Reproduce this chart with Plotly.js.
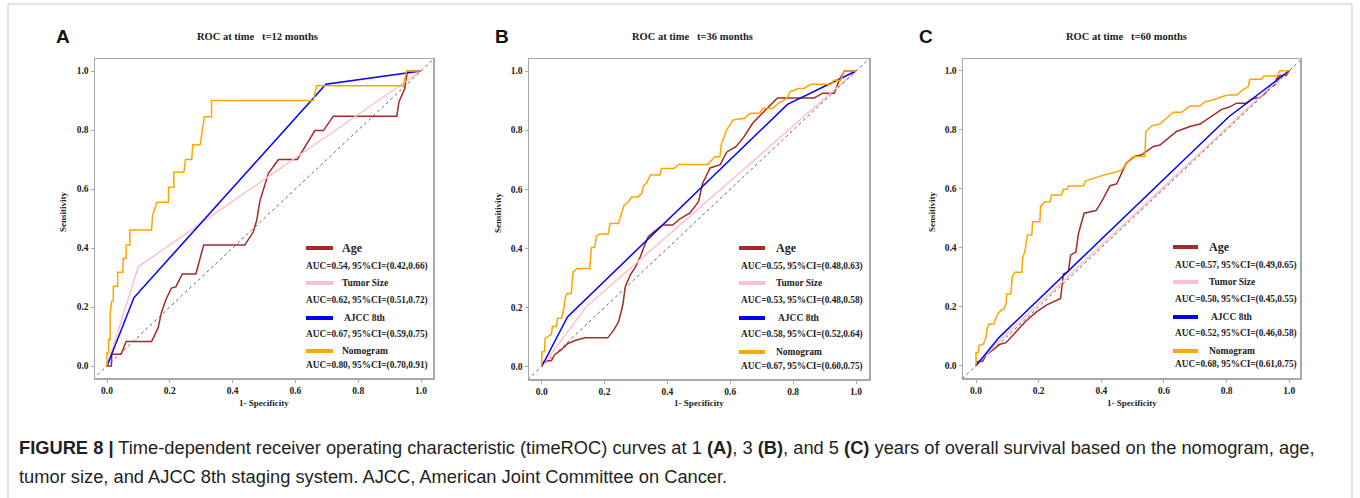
<!DOCTYPE html>
<html>
<head>
<meta charset="utf-8">
<script src="https://cdn.plot.ly/plotly-3.0.1.min.js"></script>
<style>html,body{margin:0;padding:0;background:#fff;}#chart{width:1360px;height:498px;}</style>
</head>
<body>
<div id="chart"></div>
<script>
// ---------- DATA ----------
const seriesNames = ["Age", "Tumor Size", "AJCC 8th", "Nomogram"];
const panelTitles = ["ROC at time\u00a0\u00a0\u00a0t=12 months", "ROC at time\u00a0\u00a0\u00a0t=36 months", "ROC at time\u00a0\u00a0\u00a0t=60 months"];
const panelLetters = ["A", "B", "C"];
const tickValues = [0, 0.2, 0.4, 0.6, 0.8, 1.0];
const diagonal = [-0.1, 1.1];

// Panel A (12 months)
const ageA_x = [0,0.014,0.015,0.045,0.061,0.142,0.163,0.173,0.187,0.205,0.219,0.24,0.283,0.308,0.439,0.466,0.477,0.487,0.514,0.546,0.606,0.662,0.689,0.721,0.923,0.93,0.948,0.957,1];
const ageA_y = [0,0,0.04,0.04,0.083,0.083,0.13,0.18,0.224,0.264,0.268,0.312,0.312,0.41,0.41,0.455,0.495,0.56,0.653,0.70,0.70,0.798,0.798,0.847,0.847,0.896,0.94,1.0,1.0];
const tumorA_x = [0,0.1,1];
const tumorA_y = [0,0.337,1];
const ajccA_x = [0,0.086,0.697,1];
const ajccA_y = [0,0.232,0.955,1];
const nomoA_x = [0,0,0.005,0.005,0.01,0.01,0.015,0.02,0.02,0.034,0.034,0.05,0.052,0.061,0.061,0.073,0.073,0.142,0.145,0.159,0.196,0.196,0.213,0.213,0.245,0.25,0.27,0.273,0.297,0.31,0.333,0.333,0.657,0.668,0.944,0.954,1];
const nomoA_y = [0,0.045,0.045,0.09,0.09,0.175,0.22,0.22,0.27,0.27,0.318,0.318,0.365,0.365,0.41,0.41,0.461,0.461,0.51,0.555,0.555,0.606,0.606,0.657,0.657,0.70,0.70,0.75,0.75,0.845,0.845,0.90,0.90,0.95,0.95,1.0,1.0];
const aucA = ["AUC=0.54, 95%CI=(0.42,0.66)", "AUC=0.62, 95%CI=(0.51,0.72)", "AUC=0.67, 95%CI=(0.59,0.75)", "AUC=0.80, 95%CI=(0.70,0.91)"];

// Panel B (36 months)
const ageB_x = [0,0.007,0.031,0.041,0.063,0.082,0.106,0.138,0.21,0.229,0.245,0.258,0.266,0.282,0.298,0.314,0.328,0.339,0.354,0.385,0.417,0.44,0.472,0.499,0.512,0.536,0.568,0.589,0.618,0.644,0.671,0.697,0.724,0.75,0.867,0.894,0.931,0.947,0.963,1];
const ageB_y = [0,0.017,0.02,0.04,0.057,0.077,0.088,0.097,0.097,0.123,0.152,0.208,0.27,0.31,0.336,0.372,0.411,0.439,0.453,0.479,0.479,0.5,0.52,0.558,0.62,0.672,0.683,0.726,0.744,0.778,0.823,0.851,0.879,0.909,0.909,0.925,0.925,0.97,1.0,1.0];
const tumorB_x = [0,0.142,1];
const tumorB_y = [0,0.202,1];
const ajccB_x = [0,0.082,0.782,1];
const ajccB_y = [0,0.168,0.887,1];
const nomoB_x = [0,0.001,0.009,0.011,0.031,0.034,0.047,0.05,0.063,0.071,0.075,0.081,0.094,0.1,0.113,0.153,0.158,0.169,0.174,0.185,0.212,0.217,0.244,0.252,0.262,0.276,0.286,0.307,0.318,0.325,0.333,0.346,0.376,0.381,0.42,0.437,0.529,0.55,0.567,0.572,0.588,0.609,0.646,0.662,0.694,0.704,0.736,0.752,0.78,0.79,0.816,0.835,0.856,0.92,0.93,0.951,0.962,1];
const nomoB_y = [0,0.05,0.05,0.096,0.109,0.135,0.135,0.163,0.163,0.2,0.234,0.247,0.247,0.32,0.332,0.332,0.403,0.403,0.441,0.448,0.448,0.484,0.484,0.513,0.546,0.557,0.574,0.574,0.586,0.614,0.62,0.648,0.648,0.670,0.670,0.684,0.684,0.71,0.71,0.755,0.80,0.834,0.84,0.856,0.858,0.874,0.874,0.89,0.907,0.93,0.941,0.941,0.955,0.955,0.969,0.969,1.0,1.0];
const aucB = ["AUC=0.55, 95%CI=(0.48,0.63)", "AUC=0.53, 95%CI=(0.48,0.58)", "AUC=0.58, 95%CI=(0.52,0.64)", "AUC=0.67, 95%CI=(0.60,0.75)"];

// Panel C (60 months)
const ageC_x = [0,0.004,0.021,0.034,0.05,0.077,0.096,0.109,0.13,0.157,0.194,0.226,0.27,0.279,0.295,0.302,0.319,0.327,0.345,0.383,0.401,0.428,0.449,0.468,0.479,0.506,0.529,0.566,0.587,0.64,0.683,0.715,0.752,0.784,0.805,0.832,0.864,0.88,0.906,0.922,0.938,0.954,0.96,0.97,0.99,1];
const ageC_y = [0,0.014,0.014,0.04,0.05,0.073,0.078,0.093,0.118,0.149,0.183,0.206,0.228,0.311,0.319,0.375,0.386,0.448,0.517,0.526,0.556,0.61,0.616,0.663,0.686,0.709,0.715,0.743,0.748,0.794,0.811,0.819,0.846,0.869,0.875,0.89,0.89,0.904,0.91,0.922,0.944,0.952,0.974,0.984,0.984,1.0];
const tumorC_x = [0,0.08,0.93,1];
const tumorC_y = [0,0.09,0.935,1];
const ajccC_x = [0,0.074,0.807,1];
const ajccC_y = [0,0.096,0.844,1];
const nomoC_x = [0,0,0.007,0.01,0.023,0.031,0.036,0.042,0.057,0.063,0.071,0.081,0.089,0.096,0.098,0.111,0.116,0.125,0.146,0.149,0.156,0.164,0.178,0.181,0.204,0.206,0.22,0.236,0.241,0.273,0.279,0.291,0.295,0.343,0.349,0.375,0.407,0.439,0.465,0.481,0.502,0.539,0.542,0.561,0.587,0.608,0.63,0.656,0.683,0.715,0.731,0.758,0.779,0.805,0.832,0.854,0.869,0.874,0.912,0.919,0.96,0.97,1];
const nomoC_y = [0,0.044,0.044,0.068,0.073,0.092,0.127,0.141,0.141,0.161,0.178,0.189,0.192,0.211,0.243,0.243,0.302,0.317,0.317,0.367,0.386,0.443,0.443,0.488,0.488,0.541,0.556,0.556,0.579,0.579,0.598,0.598,0.609,0.609,0.626,0.635,0.646,0.654,0.663,0.686,0.709,0.709,0.794,0.813,0.819,0.839,0.859,0.859,0.88,0.88,0.895,0.901,0.91,0.918,0.918,0.937,0.946,0.971,0.971,0.982,0.982,1.0,1.0];
const aucC = ["AUC=0.57, 95%CI=(0.49,0.65)", "AUC=0.50, 95%CI=(0.45,0.55)", "AUC=0.52, 95%CI=(0.46,0.58)", "AUC=0.68, 95%CI=(0.61,0.75)"];

const captionLine1 = "<b>FIGURE 8 |</b> Time-dependent receiver operating characteristic (timeROC) curves at 1 <b>(A)</b>, 3 <b>(B)</b>, and 5 <b>(C)</b> years of overall survival based on the nomogram, age,";
const captionLine2 = "tumor size, and AJCC 8th staging system. AJCC, American Joint Committee on Cancer.";

// ---------- STYLE / LAYOUT ----------
const W = 1360, H = 498;
const fx = p => p / W;
const fy = p => 1 - p / H;
const colors = ["#A52A2A", "#FFC0CB", "#0000FF", "#FFA500"];
const serif = "Liberation Serif, Times New Roman, serif";

const panels = [
  {data: [[ageA_x, ageA_y], [tumorA_x, tumorA_y], [ajccA_x, ajccA_y], [nomoA_x, nomoA_y]], auc: aucA,
   frame: [95, 433, 59, 378], x0: 107, x1: 421, y0: 366, y1: 71,
   titleX: 257, letterX: 63, sensX: 63, specX: 264,
   legLine: [306, 333], legName: 340, aucX: 304, rows: [248, 266, 283, 300, 318, 334, 351, 365]},
  {data: [[ageB_x, ageB_y], [tumorB_x, tumorB_y], [ajccB_x, ajccB_y], [nomoB_x, nomoB_y]], auc: aucB,
   frame: [529, 869, 59, 379], x0: 541.7, x1: 856, y0: 366.5, y1: 71,
   titleX: 692, letterX: 502, sensX: 498, specX: 699,
   legLine: [739, 765], legName: 774, aucX: 739, rows: [248, 266, 283, 300, 318, 334, 352, 366]},
  {data: [[ageC_x, ageC_y], [tumorC_x, tumorC_y], [ajccC_x, ajccC_y], [nomoC_x, nomoC_y]], auc: aucC,
   frame: [963, 1300, 59, 378], x0: 976, x1: 1289.3, y0: 365.7, y1: 70.7,
   titleX: 1126, letterX: 926, sensX: 932, specX: 1132,
   legLine: [1173, 1198], legName: 1207, aucX: 1173, rows: [247, 265, 282, 299, 317, 333, 351, 364]}
];

const traces = [];
const shapes = [];
const annotations = [];
const layout = {
  width: W, height: H, margin: {l: 0, r: 0, t: 0, b: 0},
  paper_bgcolor: "#fff", plot_bgcolor: "#fff", showlegend: false,
  font: {family: serif, color: "#222"}
};

panels.forEach((p, i) => {
  const n = i === 0 ? "" : String(i + 1);
  const xa = "x" + n, ya = "y" + n;
  const [L, R, T, B] = p.frame;
  const axisCommon = {
    showline: true, mirror: true, linecolor: "#a8a8a8", linewidth: 1.5,
    ticks: "outside", ticklen: 3, tickcolor: "#a8a8a8", tickwidth: 1,
    showgrid: false, zeroline: false, tickvals: tickValues, tickformat: ".1f",
    tickfont: {family: serif, size: 9.5, color: "#222", weight: "bold"}, fixedrange: true
  };
  layout["xaxis" + n] = Object.assign({}, axisCommon, {
    anchor: ya, domain: [fx(L), fx(R)],
    range: [(L - p.x0) / (p.x1 - p.x0), (R - p.x0) / (p.x1 - p.x0)]
  });
  layout["yaxis" + n] = Object.assign({}, axisCommon, {
    anchor: xa, domain: [fy(B), fy(T)],
    range: [(p.y0 - B) / (p.y0 - p.y1), (p.y0 - T) / (p.y0 - p.y1)]
  });

  p.data.forEach((d, k) => {
    traces.push({type: "scatter", mode: "lines", x: d[0], y: d[1], xaxis: xa, yaxis: ya,
      line: {color: colors[k], width: 1.5}, hoverinfo: "skip"});
  });
  traces.push({type: "scatter", mode: "lines", x: diagonal, y: diagonal, xaxis: xa, yaxis: ya,
    line: {color: "#666", width: 1, dash: "dot"}, hoverinfo: "skip"});

  // titles and labels
  annotations.push({xref: "paper", yref: "paper", x: fx(p.titleX), y: fy(36), text: "<b>" + panelTitles[i] + "</b>",
    showarrow: false, xanchor: "center", yanchor: "middle", font: {family: serif, size: 10.5, color: "#222"}});
  annotations.push({xref: "paper", yref: "paper", x: fx(p.letterX), y: fy(36), text: "<b>" + panelLetters[i] + "</b>",
    showarrow: false, xanchor: "center", yanchor: "middle", font: {family: "Liberation Sans, Arial, sans-serif", size: 19, color: "#111"}});
  annotations.push({xref: "paper", yref: "paper", x: fx(p.sensX), y: fy(212), text: "<b>Sensitivity</b>", textangle: -90,
    showarrow: false, xanchor: "center", yanchor: "middle", font: {family: serif, size: 9, color: "#222"}});
  annotations.push({xref: "paper", yref: "paper", x: fx(p.specX), y: fy(403), text: "<b>1- Specificity</b>",
    showarrow: false, xanchor: "center", yanchor: "middle", font: {family: serif, size: 9, color: "#222"}});

  // legend
  seriesNames.forEach((name, k) => {
    const rowY = p.rows[2 * k], aucY = p.rows[2 * k + 1];
    shapes.push({type: "line", xref: "paper", yref: "paper", x0: fx(p.legLine[0]), x1: fx(p.legLine[1]),
      y0: fy(rowY), y1: fy(rowY), line: {color: colors[k], width: 4}});
    annotations.push({xref: "paper", yref: "paper", x: fx(p.legName + (k === 2 ? 2 : 0)), y: fy(rowY),
      text: "<b>" + name + "</b>", showarrow: false, xanchor: "left", yanchor: "middle",
      font: {family: serif, size: k === 0 ? 12 : 9.5, color: "#222"}});
    annotations.push({xref: "paper", yref: "paper", x: fx(p.aucX), y: fy(aucY),
      text: "<b>" + p.auc[k] + "</b>", showarrow: false, xanchor: "left", yanchor: "middle",
      font: {family: serif, size: 9.3, color: "#222"}});
  });
});

// caption
annotations.push({xref: "paper", yref: "paper", x: fx(17), y: fy(447), text: captionLine1, showarrow: false,
  xanchor: "left", yanchor: "middle", font: {family: "Liberation Sans, Arial, sans-serif", size: 18.3, color: "#231f20"}});
annotations.push({xref: "paper", yref: "paper", x: fx(17), y: fy(476), text: captionLine2, showarrow: false,
  xanchor: "left", yanchor: "middle", font: {family: "Liberation Sans, Arial, sans-serif", size: 18.3, color: "#231f20"}});

// outer frame
shapes.push({type: "rect", xref: "paper", yref: "paper", x0: fx(8), x1: fx(1352), y0: -0.05, y1: fy(4),
  line: {color: "#c8c8c8", width: 1}, fillcolor: "rgba(0,0,0,0)"});

layout.shapes = shapes;
layout.annotations = annotations;

Plotly.newPlot("chart", traces, layout, {displayModeBar: false, staticPlot: true});
</script>
</body>
</html>
